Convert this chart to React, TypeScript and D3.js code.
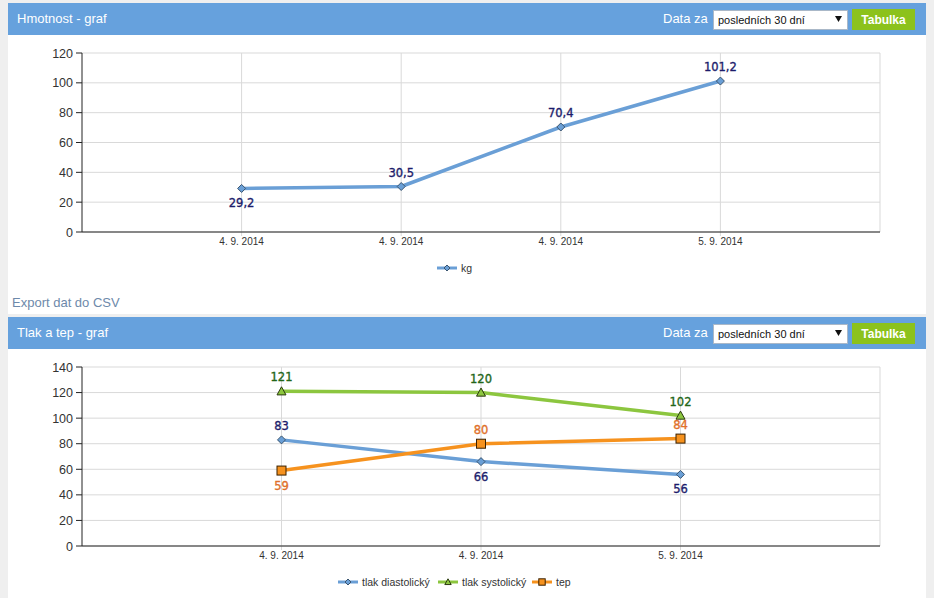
import * as d3 from 'd3'

// hmotnost
const weightDates = ['4. 9. 2014', '4. 9. 2014', '4. 9. 2014', '5. 9. 2014']
const weightKg = [29.2, 30.5, 70.4, 101.2]
const weightTicks = [0, 20, 40, 60, 80, 100, 120]

// tlak a tep
const pressureDates = ['4. 9. 2014', '4. 9. 2014', '5. 9. 2014']
const diastolic = [83, 66, 56]
const systolic = [121, 120, 102]
const pulse = [59, 80, 84]
const pressureTicks = [0, 20, 40, 60, 80, 100, 120, 140]

const FONT = '"Liberation Sans", Arial, sans-serif'
const LABEL_FONT = '"DejaVu Sans", Verdana, sans-serif'
const HEADER_BLUE = '#66a1dd'
const GRID = '#d9d9d9'

type Series = {
    name: string
    values: number[]
    color: string
    labelColor: string
    marker: 'diamond' | 'triangle' | 'square'
    below: boolean[]
}

const fmt = (v: number) => String(v).replace('.', ',')

function Marker({ kind, x, y, color, size }: { kind: string; x: number; y: number; color: string; size: number }) {
    const s = size
    if (kind === 'diamond') {
        return <path d={`M${x},${y - s}L${x + s},${y}L${x},${y + s}L${x - s},${y}Z`} fill={color} stroke="#3a5570" strokeWidth={1} />
    }
    if (kind === 'triangle') {
        return <path d={`M${x},${y - s}L${x + s},${y + s * 0.8}L${x - s},${y + s * 0.8}Z`} fill={color} stroke="#2b3a10" strokeWidth={1} />
    }
    return <rect x={x - s} y={y - s} width={s * 2} height={s * 2} fill={color} stroke="#3a2000" strokeWidth={1} />
}

function Header({ title, top }: { title: string; top: number }) {
    return (
        <g transform={`translate(0,${top})`}>
            <rect x={8} y={0} width={918} height={32} fill={HEADER_BLUE} />
            <text x={17} y={20} fill="#fff" fontSize={13} fontFamily={FONT}>{title}</text>
            <text x={663} y={20} fill="#fff" fontSize={13} fontFamily={FONT}>Data za</text>
            <rect x={713.5} y={7.5} width={134} height={19} fill="#fff" stroke="#aab8c8" />
            <text x={718} y={21} fill="#111" fontSize={11} fontFamily={FONT}>posledních 30 dní</text>
            <path d="M835,13L842,13L838.5,19Z" fill="#111" />
            <rect x={852} y={6} width={63} height={21} fill="#8cc21c" />
            <text x={883.5} y={21} fill="#fff" fontSize={12} fontWeight="bold" textAnchor="middle" fontFamily={FONT}>Tabulka</text>
        </g>
    )
}

function LineChart({ dates, series, ticks, top, bottom }: { dates: string[]; series: Series[]; ticks: number[]; top: number; bottom: number }) {
    const left = 82
    const right = 880
    const x = d3.scaleLinear().domain([0, dates.length + 1]).range([left, right])
    const y = d3.scaleLinear().domain([0, d3.max(ticks) as number]).range([bottom, top])
    const line = d3.line<number>().x((_, i) => x(i + 1)).y(d => y(d))

    return (
        <g>
            {ticks.map(t => (
                <line key={'h' + t} x1={left} x2={right} y1={y(t)} y2={y(t)} stroke={GRID} />
            ))}
            {dates.map((_, i) => (
                <line key={'v' + i} x1={x(i + 1)} x2={x(i + 1)} y1={top} y2={bottom + 4} stroke={GRID} />
            ))}
            <line x1={right} x2={right} y1={top} y2={bottom} stroke={GRID} />
            <line x1={left} x2={left} y1={top} y2={bottom} stroke="#222" />
            <line x1={left} x2={right} y1={bottom} y2={bottom} stroke="#222" />
            {ticks.map(t => (
                <g key={'t' + t}>
                    <line x1={left - 6} x2={left} y1={y(t)} y2={y(t)} stroke="#222" />
                    <text x={left - 9} y={y(t) + 4.5} textAnchor="end" fontSize={12.5} fill="#333" fontFamily={FONT}>{t}</text>
                </g>
            ))}
            {dates.map((d, i) => (
                <text key={'x' + i} x={x(i + 1)} y={bottom + 13} textAnchor="middle" fontSize={10} fill="#333" fontFamily={FONT}>{d}</text>
            ))}
            {series.map(s => (
                <path key={s.name} d={line(s.values) || ''} fill="none" stroke={s.color} strokeWidth={3.5} strokeLinejoin="round" />
            ))}
            {series.map(s => s.values.map((v, i) => (
                <g key={s.name + i}>
                    <Marker kind={s.marker} x={x(i + 1)} y={y(v)} color={s.color} size={s.marker === 'diamond' ? 4 : 4.5} />
                    <text x={x(i + 1)} y={s.below[i] ? y(v) + 19 : y(v) - 10} textAnchor="middle" fontSize={11.5}
                        fill={s.labelColor} stroke={s.labelColor} strokeWidth={0.35} fontFamily={LABEL_FONT}>{fmt(v)}</text>
                </g>
            )))}
        </g>
    )
}

function Legend({ series, xs, y }: { series: Series[]; xs: number[]; y: number }) {
    return (
        <g>
            {series.map((s, i) => (
                <g key={s.name}>
                    <line x1={xs[i]} x2={xs[i] + 20} y1={y} y2={y} stroke={s.color} strokeWidth={3} />
                    <Marker kind={s.marker} x={xs[i] + 10} y={y} color={s.color} size={s.marker === 'diamond' ? 3 : 3.2} />
                    <text x={xs[i] + 24} y={y + 4} fontSize={10.5} fill="#333" fontFamily={FONT}>{s.name}</text>
                </g>
            ))}
        </g>
    )
}

export default function App() {
    const weightSeries: Series[] = [
        { name: 'kg', values: weightKg, color: '#6a9fd6', labelColor: '#1c1c6b', marker: 'diamond', below: [true, false, false, false] },
    ]
    const pressureSeries: Series[] = [
        { name: 'tlak diastolický', values: diastolic, color: '#6a9fd6', labelColor: '#1c1c6b', marker: 'diamond', below: [false, true, true] },
        { name: 'tlak systolický', values: systolic, color: '#8cc63f', labelColor: '#236618', marker: 'triangle', below: [false, false, false] },
        { name: 'tep', values: pulse, color: '#f6921e', labelColor: '#e0702a', marker: 'square', below: [true, false, false] },
    ]

    return (
        <svg width={934} height={598} style={{ position: 'absolute', left: 0, top: 0, background: '#efefef' }}>
            <rect x={8} y={3} width={918} height={311} fill="#fff" />
            <rect x={8} y={317} width={918} height={281} fill="#fff" />

            <Header title="Hmotnost - graf" top={3} />
            <LineChart dates={weightDates} series={weightSeries} ticks={weightTicks} top={53} bottom={232} />
            <Legend series={weightSeries} xs={[437]} y={268} />

            <text x={12} y={307} fontSize={13} fill="#6d89aa" fontFamily={FONT}>Export dat do CSV</text>

            <Header title="Tlak a tep - graf" top={317} />
            <LineChart dates={pressureDates} series={pressureSeries} ticks={pressureTicks} top={367} bottom={546} />
            <Legend series={pressureSeries} xs={[338, 438, 532]} y={582} />
        </svg>
    )
}
